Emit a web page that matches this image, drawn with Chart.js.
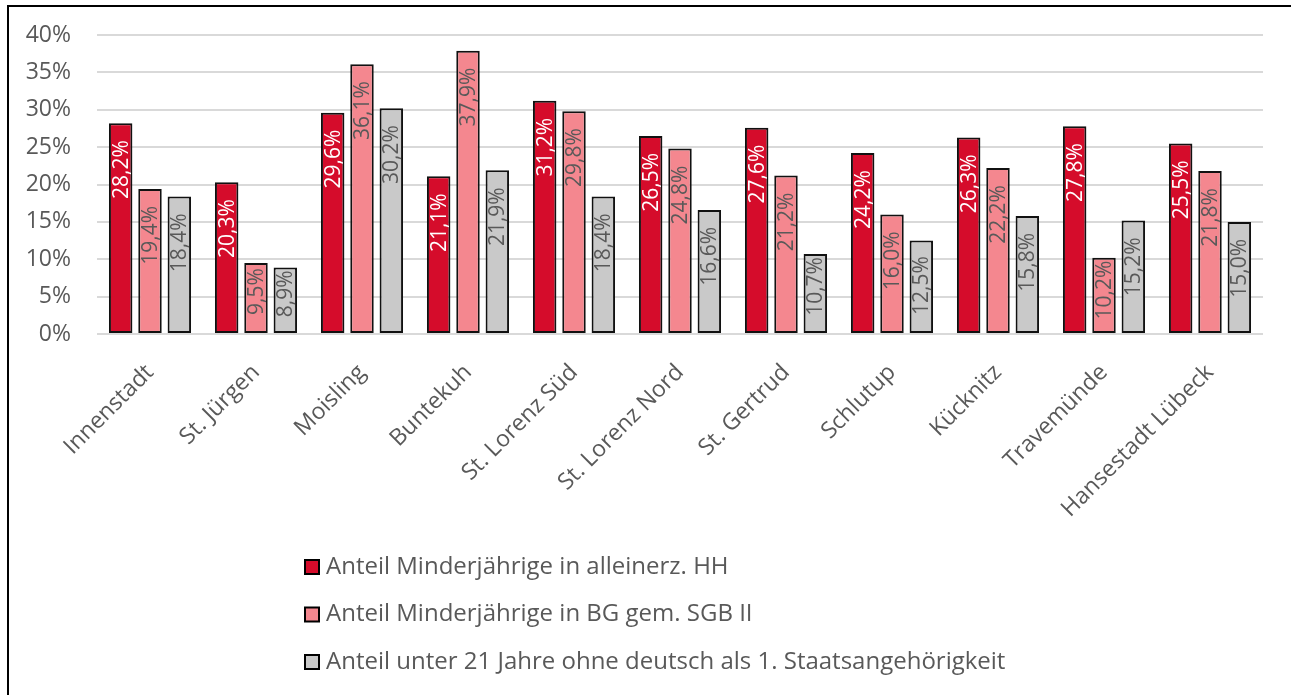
<!DOCTYPE html>
<html>
<head>
<meta charset="utf-8">
<script src="https://cdn.jsdelivr.net/npm/chart.js@4.4.1/dist/chart.umd.min.js"></script>
<style>
    html, body { margin: 0; padding: 0; background: #fff; overflow: hidden; }
    #frame { position: absolute; left: 7px; top: 5px; width: 1320px; height: 720px; border: 2px solid #000; }
    #wrap { position: absolute; left: 0; top: 0; width: 1291px; height: 695px; }
</style>
</head>
<body>
<div id="frame"></div>
<div id="wrap"><canvas id="stadtteile"></canvas></div>
<script>
var districts = ['Innenstadt', 'St. Jürgen', 'Moisling', 'Buntekuh', 'St. Lorenz Süd', 'St. Lorenz Nord',
    'St. Gertrud', 'Schlutup', 'Kücknitz', 'Travemünde', 'Hansestadt Lübeck'];
var alleinerz = [28.2, 20.3, 29.6, 21.1, 31.2, 26.5, 27.6, 24.2, 26.3, 27.8, 25.5];
var sgb2 = [19.4, 9.5, 36.1, 37.9, 29.8, 24.8, 21.2, 16.0, 22.2, 10.2, 21.8];
var unter21 = [18.4, 8.9, 30.2, 21.9, 18.4, 16.6, 10.7, 12.5, 15.8, 15.2, 15.0];
var seriesNames = ['Anteil Minderjährige in alleinerz. HH', 'Anteil Minderjährige in BG gem. SGB II',
    'Anteil unter 21 Jahre ohne deutsch als 1. Staatsangehörigkeit'];
var yMin = 0, yMax = 40, yStep = 5;

var textGrey = '#595959';
var fontName = '"Open Sans", "Noto Sans", sans-serif';

function fmt(v) {
    return v.toFixed(1).replace('.', ',') + '%';
}

// labels inside the bar top, rotated
var barLabels = {
    id: 'barLabels',
    afterDatasetsDraw: function (chart) {
        var ctx = chart.ctx;
        ctx.save();
        ctx.font = '21px ' + fontName;
        chart.data.datasets.forEach(function (ds, i) {
            var meta = chart.getDatasetMeta(i);
            meta.data.forEach(function (bar, j) {
                var txt = fmt(ds.data[j]);
                var w = ctx.measureText(txt).width;
                var endY = bar.y + 17;
                if (endY + w > bar.base - 18) endY = Math.max(bar.base - 18 - w, bar.y + 3);
                ctx.save();
                ctx.translate(bar.x, endY);
                ctx.rotate(-Math.PI / 2);
                ctx.textAlign = 'right';
                ctx.textBaseline = 'middle';
                ctx.fillStyle = ds.labelColor;
                ctx.fillText(txt, 0, 1);
                ctx.restore();
            });
        });
        ctx.restore();
    }
};

// legend stacked in rows under the axis
var rowLegend = {
    id: 'rowLegend',
    afterDraw: function (chart) {
        var ctx = chart.ctx;
        ctx.save();
        ctx.font = '24px ' + fontName;
        ctx.textBaseline = 'middle';
        chart.data.datasets.forEach(function (ds, i) {
            var y = 567 + i * 47.5;
            ctx.fillStyle = ds.backgroundColor;
            ctx.fillRect(305, y - 7, 14, 14);
            ctx.lineWidth = 2;
            ctx.strokeStyle = '#000';
            ctx.strokeRect(305, y - 7, 14, 14);
            ctx.fillStyle = textGrey;
            ctx.fillText(ds.label, 326, y);
        });
        ctx.restore();
    }
};

function makeSet(i, data, color, labelColor) {
    return {
        label: seriesNames[i],
        data: data,
        backgroundColor: color,
        borderColor: '#111',
        borderWidth: 2,
        borderSkipped: false,
        labelColor: labelColor,
        categoryPercentage: 0.83,
        barPercentage: 0.8
    };
}

var chart = new Chart(document.getElementById('stadtteile'), {
    type: 'bar',
    data: {
        labels: districts,
        datasets: [
            makeSet(0, alleinerz, '#d50c2b', '#ffffff'),
            makeSet(1, sgb2, '#f4878f', textGrey),
            makeSet(2, unter21, '#c9c9c9', textGrey)
        ]
    },
    options: {
        responsive: true,
        maintainAspectRatio: false,
        animation: false,
        layout: {
            padding: { top: 35, right: 28, bottom: 159, left: 0 }
        },
        plugins: {
            legend: { display: false },
            tooltip: { enabled: false }
        },
        scales: {
            x: {
                grid: { display: false },
                border: { display: false },
                ticks: {
                    color: textGrey,
                    font: { family: fontName, size: 23 },
                    minRotation: 45,
                    maxRotation: 45,
                    padding: 17
                },
                afterFit: function (scale) {
                    scale.height = 202;
                }
            },
            y: {
                min: yMin,
                max: yMax,
                grid: { color: '#d9d9d9', lineWidth: 2, drawTicks: false },
                border: { display: false },
                ticks: {
                    stepSize: yStep,
                    color: textGrey,
                    font: { family: fontName, size: 23 },
                    padding: 26,
                    callback: function (v) { return v + '%'; }
                },
                afterFit: function (scale) {
                    scale.width = 97;
                    scale.paddingTop = 0;
                    scale.paddingBottom = 0;
                }
            }
        }
    },
    plugins: [barLabels, rowLegend]
});
</script>
</body>
</html>
